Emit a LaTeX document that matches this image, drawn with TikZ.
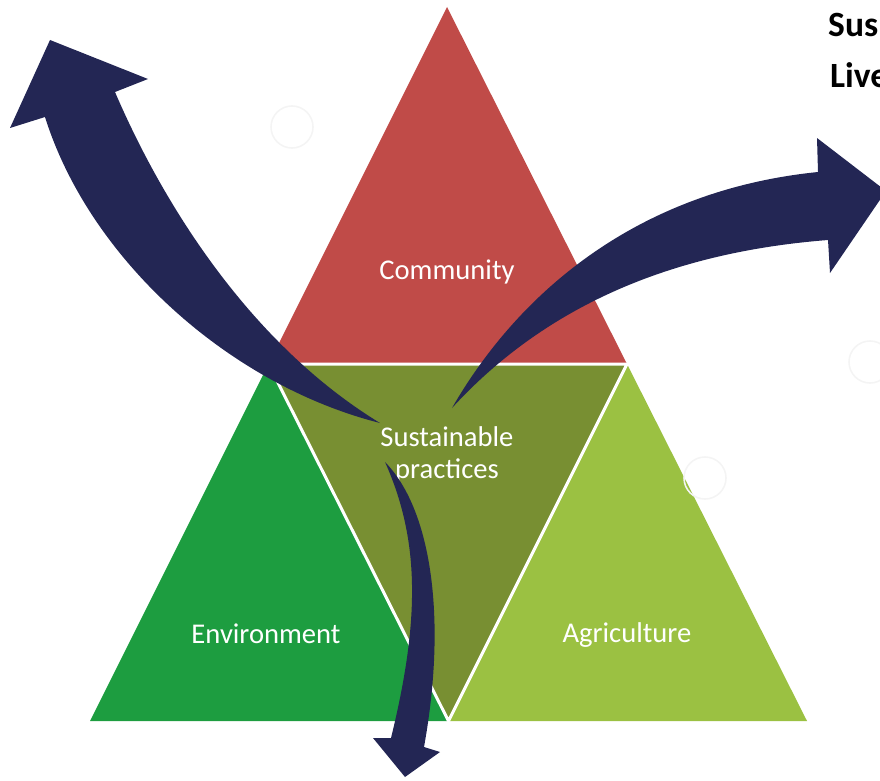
\documentclass[tikz,border=0pt]{standalone}
\usepackage{fontspec}
\setmainfont{Carlito}
\usetikzlibrary{calc}
\definecolor{commred}{RGB}{192,75,72}
\definecolor{practolive}{RGB}{120,143,50}
\definecolor{envgreen}{RGB}{29,157,64}
\definecolor{agrigreen}{RGB}{155,193,66}
\definecolor{flownavy}{RGB}{35,38,84}
\definecolor{ringgray}{RGB}{244,244,244}
\tikzset{ lbl/.style = { rectangle % label in a piece
        , text = white
        , align = center
        , font = \fontsize{28.6}{32}\selectfont
        }
        , ttl/.style = { rectangle % heading on the right
        , inner sep = 0pt
        , anchor = base west
        , font = \bfseries\fontsize{35.5}{51}\selectfont
        }
        , ring/.style = { circle % faint ring
        , draw = ringgray
        , line width = 1.6pt
        , minimum size = 42pt
        , inner sep = 0pt
        }
        }

\begin{document}
\begin{tikzpicture}[x=1pt, y=-1pt,
        gap_style/.style={draw=white, line width=3pt, line join=round},
        flow_style/.style={fill=flownavy, draw=none}]
        \useasboundingbox (0,0) rectangle (880,781);

        % outer triangle and its side midpoints
        \coordinate (top) at (447,7);
        \coordinate (bl) at (90,721);
        \coordinate (br) at (807,721);
        \coordinate (ml) at ($(top)!0.5!(bl)$);
        \coordinate (mr) at ($(top)!0.5!(br)$);
        \coordinate (mb) at ($(bl)!0.5!(br)$);

        \fill [commred] (top) -- (ml) -- (mr) -- cycle;
        \fill [envgreen] (ml) -- (bl) -- (mb) -- cycle;
        \fill [agrigreen] (mr) -- (mb) -- (br) -- cycle;
        \fill [practolive] (ml) -- (mr) -- (mb) -- cycle;
        \draw [gap_style] (ml) -- (mr) -- (mb) -- cycle;

        \node [ring] (r1) at (292,127) {};
        \node [ring] (r2) at (705,478) {};
        \node [ring] (r3) at (870,362) {};

        \node [lbl] (comm) at (447,272) {Community};
        \node [lbl] (sust) at (447,455) {Sustainable\\practices};
        \node [lbl] (env) at (266,634) {Environment};
        \node [lbl] (agri) at (627,635) {Agriculture};

        % tails of the three flows
        \coordinate (t1) at (380,423);
        \coordinate (t2) at (452,408);
        \coordinate (t3) at (385,462);

        \begin{scope}
            \clip (0,0) rectangle (880,781);
            \fill [flow_style] (t1) .. controls (260,350) and (170,220) .. (115,92)
                -- (148,79) -- (50,40) -- (10,128) -- (45,117)
                .. controls (90,260) and (230,385) .. (t1) -- cycle;
            \fill [flow_style] (t2) .. controls (520,290) and (640,190) .. (818,172)
                -- (817,138) -- (886,191) -- (830,273) -- (828,240)
                .. controls (700,250) and (560,290) .. (t2) -- cycle;
            \fill [flow_style] (t3) .. controls (432,510) and (447,620) .. (424,747)
                -- (440,752) -- (405,777) -- (373,738) -- (391,738)
                .. controls (420,620) and (420,540) .. (t3) -- cycle;

            \node [ttl] (sus) at (828,37) {Sus};
            \node [ttl] (liv) at (830,88) {Live};
        \end{scope}
\end{tikzpicture}
\end{document}
